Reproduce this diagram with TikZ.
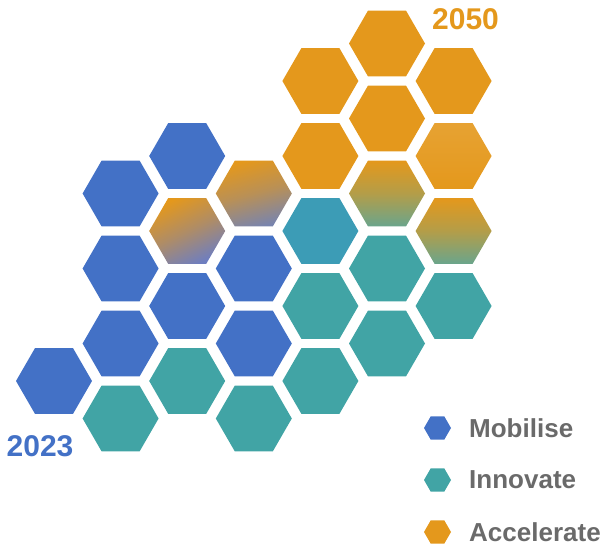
\documentclass[tikz,border=0pt]{standalone}
\usepackage{fontspec}
\setmainfont{Liberation Sans}
\usetikzlibrary{shapes.geometric}
\definecolor{mblue}{HTML}{4371C6}
\definecolor{mteal}{HTML}{41A4A5}
\definecolor{morange}{HTML}{E4981C}
\definecolor{mgray}{HTML}{6A6A6A}
\definecolor{gblue}{HTML}{6E7EC0}
\definecolor{ggray}{HTML}{7884AE}
\definecolor{ggreen}{HTML}{6AA58C}
\definecolor{tblue}{HTML}{3C9CB6}
\tikzset{
  hex/.style={regular polygon, regular polygon sides=6, minimum size=76pt, inner sep=0pt, outer sep=0pt},
  hb/.style={hex, fill=mblue},
  ht/.style={hex, fill=mteal},
  ho/.style={hex, fill=morange},
  lhex/.style={regular polygon, regular polygon sides=6, minimum size=27pt, inner sep=0pt},
  ltext/.style={anchor=west, inner sep=0pt, font=\fontsize{26}{30}\selectfont\bfseries, text=mgray},
  year/.style={inner sep=0pt, font=\fontsize{30}{33}\selectfont\bfseries}
}
\begin{document}
\begin{tikzpicture}[x=1pt,y=1pt]
\useasboundingbox (0,0) rectangle (606,547);
% column 0
\node[hb] (h00) at (54,166) {};
% column 1
\node[hb] (h10) at (120.6,353.5) {};
\node[hb] (h11) at (120.6,278.5) {};
\node[hb] (h12) at (120.6,203.5) {};
\node[ht] (h13) at (120.6,128.5) {};
% column 2
\node[hb] (h20) at (187.2,391) {};
\node[hex, shading=axis, top color=morange, bottom color=gblue, middle color=morange!55!gblue, shading angle=25] (h21) at (187.2,316) {};
\node[hb] (h22) at (187.2,241) {};
\node[ht] (h23) at (187.2,166) {};
% column 3
\node[hex, shading=axis, top color=morange, bottom color=ggray, middle color=morange!60!ggray, shading angle=15] (h30) at (253.8,353.5) {};
\node[hb] (h31) at (253.8,278.5) {};
\node[hb] (h32) at (253.8,203.5) {};
\node[ht] (h33) at (253.8,128.5) {};
% column 4
\node[ho] (h40) at (320.4,466) {};
\node[ho] (h41) at (320.4,391) {};
\node[hex, fill=tblue] (h42) at (320.4,316) {};
\node[ht] (h43) at (320.4,241) {};
\node[ht] (h44) at (320.4,166) {};
% column 5
\node[ho] (h50) at (387,503.5) {};
\node[ho] (h51) at (387,428.5) {};
\node[hex, shading=axis, top color=morange, bottom color=ggreen, middle color=morange!60!ggreen] (h52) at (387,353.5) {};
\node[ht] (h53) at (387,278.5) {};
\node[ht] (h54) at (387,203.5) {};
% column 6
\node[ho] (h60) at (453.6,466) {};
\node[hex, shading=axis, top color=morange!90!white, bottom color=morange] (h61) at (453.6,391) {};
\node[hex, shading=axis, top color=morange, bottom color=ggreen, middle color=morange!60!ggreen] (h62) at (453.6,316) {};
\node[ht] (h63) at (453.6,241) {};
% years
\node[year, anchor=base west, text=mblue] (y2023) at (6.5,90.5) {2023};
\node[year, anchor=base west, text=morange] (y2050) at (432,517.5) {2050};
% legend
\node[lhex, fill=mblue] (lm) at (437.5,119) {};
\node[lhex, fill=mteal] (li) at (437.5,67) {};
\node[lhex, fill=morange] (la) at (437.5,15) {};
\node[ltext] (tm) at (469,119) {Mobilise};
\node[ltext] (ti) at (469,67) {Innovate};
\node[ltext] (ta) at (469,15) {Accelerate};
\end{tikzpicture}
\end{document}
